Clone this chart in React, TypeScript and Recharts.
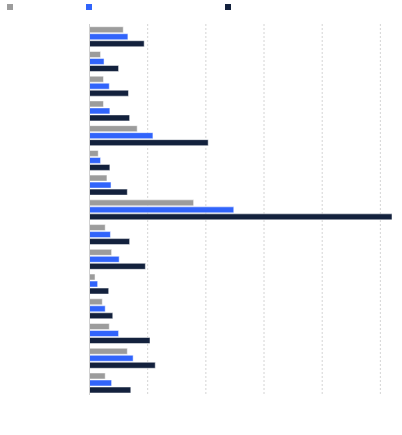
import React from "react";
import { BarChart, Bar, XAxis, YAxis, CartesianGrid, Legend } from "recharts";

const categories = [
  "C1", "C2", "C3", "C4", "C5", "C6", "C7", "C8",
  "C9", "C10", "C11", "C12", "C13", "C14", "C15",
];
const seriesA = [5.8, 1.9, 2.4, 2.4, 8.2, 1.5, 3.0, 17.9, 2.7, 3.8, 0.95, 2.2, 3.4, 6.5, 2.7];
const seriesB = [6.6, 2.5, 3.4, 3.5, 10.9, 1.9, 3.7, 24.8, 3.6, 5.1, 1.4, 2.7, 5.0, 7.5, 3.8];
const seriesC = [9.4, 5.0, 6.7, 6.9, 20.4, 3.5, 6.5, 52.0, 6.9, 9.6, 3.3, 4.0, 10.4, 11.3, 7.1];
const xTicks = [0, 10, 20, 30, 40, 50];

const data = categories.map((name, i) => ({
  name,
  a: seriesA[i],
  b: seriesB[i],
  c: seriesC[i],
}));

const COLORS = { a: "#9c9c9c", b: "#3164fb", c: "#13213d" };
const legendItems = [
  { key: "a", offset: 7 },
  { key: "b", offset: 73 },
  { key: "c", offset: 133 },
];

const LegendContent = () => (
  <div style={{ height: 24, position: "relative", display: "flex", alignItems: "flex-start" }}>
    {legendItems.map((it) => (
      <span
        key={it.key}
        style={{
          display: "inline-block",
          width: 6,
          height: 6,
          marginTop: 4,
          marginLeft: it.offset,
          background: (COLORS as any)[it.key],
        }}
      />
    ))}
  </div>
);

const EmptyTick = () => <g />;

const gridX = (props: any) => {
  const scale = props?.xAxis?.scale;
  if (scale && typeof scale === "function") return xTicks.map((t) => scale(t));
  if (scale && typeof scale.map === "function") return xTicks.map((t) => scale.map(t));
  return [];
};

export default function App() {
  return (
    <div style={{ position: "absolute", left: 0, top: 0, width: 402, height: 435, background: "#fff" }}>
      <BarChart
        width={402}
        height={435}
        data={data}
        layout="vertical"
        margin={{ top: 0, right: 10, bottom: 0, left: 0 }}
        barGap={1}
        barCategoryGap="11%"
      >
        <Legend
          verticalAlign="top"
          align="left"
          content={<LegendContent />}
          wrapperStyle={{ left: 0, top: 0, width: 402 }}
        />
        <CartesianGrid
          horizontal={false}
          stroke="#d4d4d4"
          strokeDasharray="2 2"
          verticalCoordinatesGenerator={gridX}
        />
        <XAxis
          type="number"
          domain={[0, 52]}
          ticks={xTicks}
          tick={<EmptyTick />}
          tickLine={false}
          axisLine={false}
          height={40}
          allowDataOverflow
        />
        <YAxis
          type="category"
          dataKey="name"
          width={89.5}
          tick={false}
          tickLine={false}
          axisLine={{ stroke: "#d0d0d0" }}
        />
        <Bar dataKey="a" fill={COLORS.a} stroke="#ffffff" strokeWidth={0.5} isAnimationActive={false} />
        <Bar dataKey="b" fill={COLORS.b} stroke="#ffffff" strokeWidth={0.5} isAnimationActive={false} />
        <Bar dataKey="c" fill={COLORS.c} stroke="#ffffff" strokeWidth={0.5} isAnimationActive={false} />
      </BarChart>
    </div>
  );
}
